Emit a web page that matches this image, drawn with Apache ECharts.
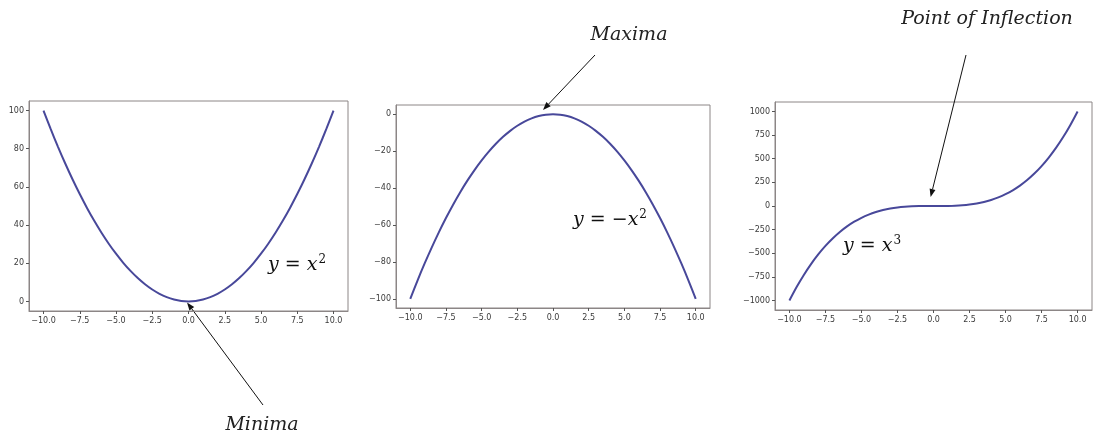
<!DOCTYPE html>
<html>
<head>
<meta charset="utf-8">
<script src="https://cdn.jsdelivr.net/npm/echarts@6/dist/echarts.min.js"></script>
<style>
  html, body { margin: 0; padding: 0; background: #fff; }
  #main { width: 1094px; height: 435px; }
</style>
</head>
<body>
<div id="main"></div>
<script>
// sample x positions
var xs = [-10, -9.5, -9, -8.5, -8, -7.5, -7, -6.5, -6, -5.5, -5, -4.5, -4, -3.5, -3, -2.5, -2, -1.5, -1, -0.5,
  0, 0.5, 1, 1.5, 2, 2.5, 3, 3.5, 4, 4.5, 5, 5.5, 6, 6.5, 7, 7.5, 8, 8.5, 9, 9.5, 10];
var ySquare = [100, 90.25, 81, 72.25, 64, 56.25, 49, 42.25, 36, 30.25, 25, 20.25, 16, 12.25, 9, 6.25, 4, 2.25, 1, 0.25,
  0, 0.25, 1, 2.25, 4, 6.25, 9, 12.25, 16, 20.25, 25, 30.25, 36, 42.25, 49, 56.25, 64, 72.25, 81, 90.25, 100];
var yNegSquare = [-100, -90.25, -81, -72.25, -64, -56.25, -49, -42.25, -36, -30.25, -25, -20.25, -16, -12.25, -9, -6.25, -4, -2.25, -1, -0.25,
  0, -0.25, -1, -2.25, -4, -6.25, -9, -12.25, -16, -20.25, -25, -30.25, -36, -42.25, -49, -56.25, -64, -72.25, -81, -90.25, -100];
var yCube = [-1000, -857.4, -729, -614.1, -512, -421.9, -343, -274.6, -216, -166.4, -125, -91.1, -64, -42.9, -27, -15.6, -8, -3.4, -1, -0.1,
  0, 0.1, 1, 3.4, 8, 15.6, 27, 42.9, 64, 91.1, 125, 166.4, 216, 274.6, 343, 421.9, 512, 614.1, 729, 857.4, 1000];

var xTicks = [-10, -7.5, -5, -2.5, 0, 2.5, 5, 7.5, 10];
var yTicks1 = [0, 20, 40, 60, 80, 100];
var yTicks2 = [-100, -80, -60, -40, -20, 0];
var yTicks3 = [-1000, -750, -500, -250, 0, 250, 500, 750, 1000];

var lineColor = "#48489a";
var frameColor = "#8c8686";
var labelColor = "#3a3a3a";

function minus(s) {
  return s.charAt(0) === "-" ? "\u2212" + s.slice(1) : s;
}

function makeX(idx) {
  return {
    type: "value",
    gridIndex: idx,
    min: -11,
    max: 11,
    splitLine: { show: false },
    axisLine: { show: true, onZero: false, lineStyle: { color: frameColor } },
    axisTick: { show: true, length: 3, customValues: xTicks, lineStyle: { color: "#555" } },
    axisLabel: {
      customValues: xTicks,
      margin: 6,
      fontSize: 8,
      fontFamily: "DejaVu Sans",
      color: labelColor,
      formatter: function (v) { return minus(v.toFixed(1)); }
    }
  };
}

function makeY(idx, min, max, ticks) {
  return {
    type: "value",
    gridIndex: idx,
    min: min,
    max: max,
    splitLine: { show: false },
    axisLine: { show: true, onZero: false, lineStyle: { color: frameColor } },
    axisTick: { show: true, length: 3, customValues: ticks, lineStyle: { color: "#555" } },
    axisLabel: {
      customValues: ticks,
      margin: 5,
      fontSize: 8,
      fontFamily: "DejaVu Sans",
      color: labelColor,
      formatter: function (v) { return minus(String(v)); }
    }
  };
}

function pairs(ys) {
  return xs.map(function (x, i) { return [x, ys[i]]; });
}

function makeSeries(idx, ys) {
  return {
    type: "line",
    xAxisIndex: idx,
    yAxisIndex: idx,
    data: pairs(ys),
    showSymbol: false,
    smooth: 0.3,
    lineStyle: { color: lineColor, width: 2 }
  };
}

var myChart = echarts.init(document.getElementById("main"));
myChart.setOption({
  animation: false,
  backgroundColor: "#fff",
  grid: [
    { left: 29, top: 101, width: 319, height: 210, show: true, borderColor: frameColor, borderWidth: 1 },
    { left: 396, top: 105, width: 314, height: 203, show: true, borderColor: frameColor, borderWidth: 1 },
    { left: 775, top: 102, width: 317, height: 208, show: true, borderColor: frameColor, borderWidth: 1 }
  ],
  xAxis: [makeX(0), makeX(1), makeX(2)],
  yAxis: [
    makeY(0, -5, 105, yTicks1),
    makeY(1, -105, 5, yTicks2),
    makeY(2, -1100, 1100, yTicks3)
  ],
  series: [
    makeSeries(0, ySquare),
    makeSeries(1, yNegSquare),
    makeSeries(2, yCube)
  ]
});

// annotations: arrow tip anchored on data, tail and text in pixels
var notes = [
  { grid: 0, tip: [-0.1, -0.5], tail: [263, 405], text: "Minima", at: [262, 425] },
  { grid: 1, tip: [-0.7, 2.3], tail: [595, 55], text: "Maxima", at: [629, 35] },
  { grid: 2, tip: [-0.2, 95], tail: [966, 55], text: "Point of Inflection", at: [987, 19] }
];

var graphics = [];
notes.forEach(function (n) {
  var p = myChart.convertToPixel({ gridIndex: n.grid }, n.tip);
  var dx = p[0] - n.tail[0], dy = p[1] - n.tail[1];
  var len = Math.sqrt(dx * dx + dy * dy);
  var ux = dx / len, uy = dy / len;
  var hl = 8, hw = 3;
  var bx = p[0] - ux * hl, by = p[1] - uy * hl;
  graphics.push({
    type: "line",
    shape: { x1: n.tail[0], y1: n.tail[1], x2: bx, y2: by },
    style: { stroke: "#111", lineWidth: 1 }
  });
  graphics.push({
    type: "polygon",
    shape: { points: [[p[0], p[1]], [bx - uy * hw, by + ux * hw], [bx + uy * hw, by - ux * hw]] },
    style: { fill: "#111" }
  });
  graphics.push({
    type: "text",
    x: n.at[0],
    y: n.at[1],
    style: {
      text: n.text,
      font: "italic 19px 'DejaVu Serif'",
      fill: "#222",
      align: "center",
      verticalAlign: "middle"
    }
  });
});

// curve labels
var eqs = [
  { at: [297, 265], text: "{i|y}{n| = }{i|x}{s|2}" },
  { at: [610, 220], text: "{i|y}{n| = \u2212}{i|x}{s|2}" },
  { at: [872, 246], text: "{i|y}{n| = }{i|x}{s|3}" }
];
eqs.forEach(function (e) {
  graphics.push({
    type: "text",
    x: e.at[0],
    y: e.at[1],
    style: {
      text: e.text,
      align: "center",
      verticalAlign: "middle",
      rich: {
        i: { font: "italic 19px 'DejaVu Serif'", fill: "#111" },
        n: { font: "19px 'DejaVu Serif'", fill: "#111" },
        s: { font: "12px 'DejaVu Serif'", fill: "#111", verticalAlign: "top", padding: [0, 0, 10, 1] }
      }
    }
  });
});

myChart.setOption({ graphic: graphics });
</script>
</body>
</html>
